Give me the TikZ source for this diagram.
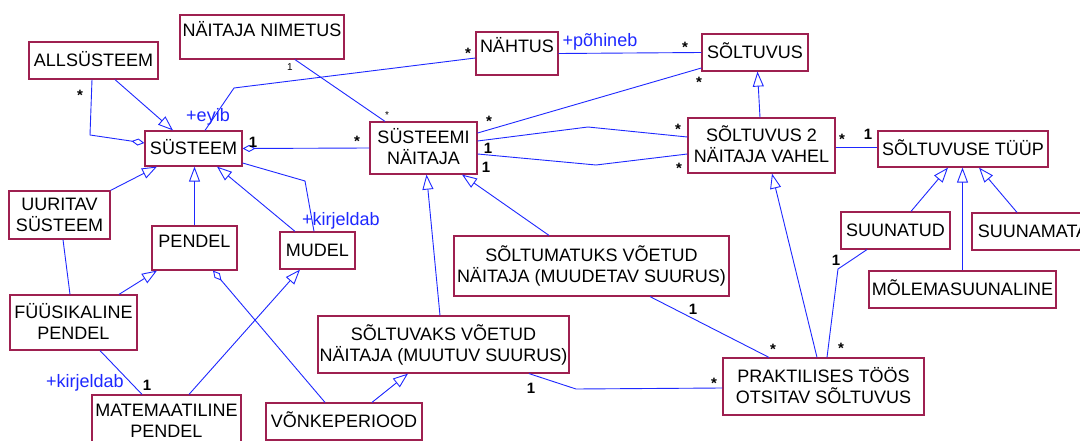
\documentclass[tikz,border=0pt]{standalone}
\usepackage{fontspec}
\setmainfont{Liberation Sans}
\usetikzlibrary{arrows.meta}
\definecolor{clsborder}{RGB}{158,32,80}
\definecolor{assoc}{RGB}{30,40,255}
\begin{document}
\begin{tikzpicture}[x=1pt,y=-1pt,
  cls/.style={draw=clsborder, line width=1.2pt, fill=white, align=center, inner sep=0pt,
    font=\fontsize{18}{21}\selectfont},
  one/.style={cls, text height=12.9pt, text depth=0pt},
  two/.style={cls, text height=33.9pt, text depth=0pt},
  toptext/.style={one, text depth=14pt},
  link/.style={draw=assoc, line width=0.9pt},
  gen/.style={link, -{Triangle[open,length=15pt,width=11pt]}},
  agg/.style={link, {Diamond[open,length=13pt,width=7pt]}-},
  mult/.style={font=\bfseries\fontsize{15}{15}\selectfont, inner sep=0pt},
  tiny/.style={font=\fontsize{10}{10}\selectfont, inner sep=0pt},
  role/.style={text=assoc, font=\fontsize{18}{21}\selectfont, inner sep=0pt},
]
\useasboundingbox (0,0) rectangle (1080,441);
\fill[white] (0,0) rectangle (1080,441);
\clip (0,0) rectangle (1080,441);

% classes
\node[one, minimum width=129pt, minimum height=37pt] (allsys) at (93.5,60.5) {ALLSÜSTEEM};
\node[toptext, minimum width=164pt, minimum height=44pt] (nimetus) at (262,37) {NÄITAJA NIMETUS};
\node[one, minimum width=97pt, minimum height=35pt] (systeem) at (193.5,148.5) {SÜSTEEM};
\node[two, minimum width=101pt, minimum height=48pt] (uuritav) at (59.5,215) {UURITAV\\SÜSTEEM};
\node[toptext, minimum width=82pt, minimum height=43pt] (nahtus) at (517,53.5) {NÄHTUS};
\node[two, minimum width=107pt, minimum height=52pt] (snaitaja) at (423.5,148) {SÜSTEEMI\\NÄITAJA};
\node[one, minimum width=106pt, minimum height=37pt] (soltuvus) at (755,52.5) {SÕLTUVUS};
\node[two, minimum width=147pt, minimum height=55pt] (sol2) at (761.5,145.5) {SÕLTUVUS 2\\NÄITAJA VAHEL};
\node[one, minimum width=170pt, minimum height=36pt] (tyyp) at (963,149) {SÕLTUVUSE TÜÜP};
\node[toptext, minimum width=85pt, minimum height=44pt] (pendel) at (194.5,248) {PENDEL};
\node[one, minimum width=75pt, minimum height=37pt] (mudel) at (317.5,250.5) {MUDEL};
\node[two, minimum width=127pt, minimum height=55pt] (fyys) at (73.5,322.5) {FÜÜSIKALINE\\PENDEL};
\node[two, minimum width=149pt, minimum height=52pt] (matem) at (166.5,421) {MATEMAATILINE\\PENDEL};
\node[one, minimum width=156pt, minimum height=37pt] (vonke) at (344,421.5) {VÕNKEPERIOOD};
\node[two, minimum width=275pt, minimum height=60pt] (soltumatuks) at (591.5,266) {SÕLTUMATUKS VÕETUD\\NÄITAJA (MUUDETAV SUURUS)};
\node[two, minimum width=251pt, minimum height=57pt] (soltuvaks) at (443.5,344.5) {SÕLTUVAKS VÕETUD\\NÄITAJA (MUUTUV SUURUS)};
\node[one, minimum width=109pt, minimum height=37pt] (suunatud) at (895.5,230.5) {SUUNATUD};
\node[one, minimum width=122pt, minimum height=37pt] (suunamata) at (1033,231.5) {SUUNAMATA};
\node[one, minimum width=187pt, minimum height=37pt] (molema) at (962.5,289.5) {MÕLEMASUUNALINE};
\node[two, minimum width=201pt, minimum height=57pt] (prakt) at (823.5,386.5) {PRAKTILISES TÖÖS\\OTSITAV SÕLTUVUS};

% generalizations
\draw[gen] ([xshift=21.5pt]allsys.south) -- ([xshift=-20.5pt]systeem.north);
\draw[gen] (uuritav.north east) -- ([xshift=-36.5pt]systeem.south);
\draw[gen] (pendel.north) -- (pendel.north |- systeem.south);
\draw[gen] ([xshift=-22.5pt]mudel.north) -- ([xshift=23.5pt]systeem.south);
\draw[gen] ([xshift=45.5pt]fyys.north) -- ([xshift=-37.5pt]pendel.south);
\draw[gen] ([xshift=22.5pt]matem.north) -- ([xshift=-17.5pt]mudel.south);
\draw[gen] ([xshift=28pt]vonke.north) -- ([xshift=-35.5pt]soltuvaks.south);
\draw[gen] ([xshift=-3.5pt]soltuvaks.north) -- ([xshift=3pt]snaitaja.south);
\draw[gen] ([xshift=-42.5pt]soltumatuks.north) -- ([xshift=38.5pt]snaitaja.south);
\draw[gen] ([xshift=-1.5pt]sol2.north) -- ([xshift=2.5pt]soltuvus.south);
\draw[gen] ([xshift=-6.5pt]prakt.north) -- ([xshift=10.5pt]sol2.south);
\draw[gen] ([xshift=15.5pt]suunatud.north) -- ([xshift=-15pt]tyyp.south);
\draw[gen] (molema.north) -- (molema.north |- tyyp.south);
\draw[gen] ([xshift=-16pt]suunamata.north) -- ([xshift=16pt]tyyp.south);

% aggregations
\draw[agg] ([yshift=5.5pt]systeem.west) -- (90,135) -- ([xshift=-1.5pt]allsys.south);
\draw[agg] (systeem.east) -- (snaitaja.west);
\draw[agg] ([xshift=18.5pt]pendel.south) -- ([xshift=-19pt]vonke.north);

% associations
\draw[link] ([yshift=-4.5pt]nahtus.west) -- (234,88) -- ([xshift=11.5pt]systeem.north);
\draw[link] ([xshift=33pt]nimetus.south) -- ([xshift=-38.5pt]snaitaja.north);
\draw[link] (nahtus.east) -- (soltuvus.west);
\draw[link] ([yshift=15pt]snaitaja.east) -- ([yshift=-15.5pt]soltuvus.west);
\draw[link] ([yshift=7pt]snaitaja.east) -- (588,127) -- ([yshift=8.5pt]sol2.west);
\draw[link] ([yshift=-6pt]snaitaja.east) -- (596,165) -- ([yshift=-8.5pt]sol2.west);
\draw[link] ([yshift=-1.5pt]sol2.east) -- ([yshift=2pt]tyyp.west);
\draw[link] ([xshift=-28.5pt]suunatud.south) -- (838,269) -- ([xshift=3.5pt]prakt.north);
\draw[link] ([xshift=58.5pt]soltumatuks.south) -- ([xshift=-54.5pt]prakt.north);
\draw[link] ([xshift=85.5pt]soltuvaks.south) -- (576,389) -- ([yshift=-1.5pt]prakt.west);
\draw[link] ([yshift=-14.5pt]systeem.east) -- (305,181) -- ([xshift=-3.5pt]mudel.north);
\draw[link] ([xshift=3.5pt]uuritav.south) -- ([xshift=-3.5pt]fyys.north);
\draw[link] ([xshift=26.5pt]fyys.south) -- ([xshift=-24.5pt]matem.north);

% role names
\node[role] (r1) at (208,117) {+eyib};
\node[role] (r2) at (600,42) {+põhineb};
\node[role] (r3) at (341,221) {+kirjeldab};
\node[role] (r4) at (85,383) {+kirjeldab};

% multiplicities
\node[mult] (m1) at (80,95) {*};
\node[mult] (m2) at (468,53) {*};
\node[tiny] (m3) at (290,67) {1};
\node[tiny] (m4) at (387,115) {*};
\node[mult] (m5) at (253,142) {1};
\node[mult] (m6) at (357,141) {*};
\node[mult] (m7) at (685,47) {*};
\node[mult] (m8) at (489,121) {*};
\node[mult] (m9) at (699,82) {*};
\node[mult] (m10) at (488,148) {1};
\node[mult] (m11) at (678,129) {*};
\node[mult] (m12) at (486,167) {1};
\node[mult] (m13) at (679,168) {*};
\node[mult] (m14) at (842,139) {*};
\node[mult] (m15) at (868,134) {1};
\node[mult] (m16) at (836,260) {1};
\node[mult] (m17) at (841,348) {*};
\node[mult] (m18) at (693,309) {1};
\node[mult] (m19) at (773,349) {*};
\node[mult] (m20) at (531,388) {1};
\node[mult] (m21) at (714,383) {*};
\node[mult] (m22) at (147,385) {1};
\end{tikzpicture}
\end{document}
